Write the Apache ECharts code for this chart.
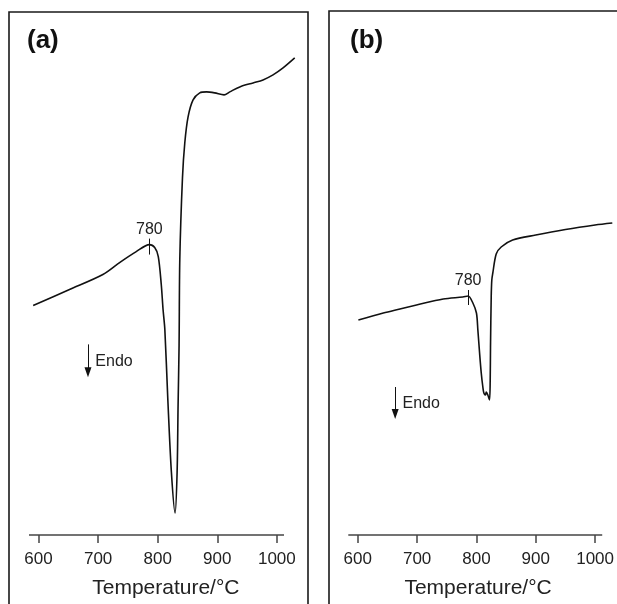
<!DOCTYPE html>
<html>
<head>
<meta charset="utf-8">
<script src="https://cdn.jsdelivr.net/npm/echarts@6/dist/echarts.min.js"></script>
<style>
  html, body { margin: 0; padding: 0; background: #fff; }
  #chart { width: 617px; height: 604px; }
</style>
</head>
<body>
<div id="chart"></div>
<script>
// DTA 曲线数据 (温度 °C, 信号为任意单位)
const tempA = [591, 652, 708, 736, 764, 786, 795, 801, 806, 809, 812, 817, 823, 829.2, 832.6, 834.2, 835.9, 837.1, 841.6, 845.5, 851, 859.4, 870.6, 881.9, 895.8, 911.4, 921, 937.8, 960.1, 976.8, 993.6, 1010.4, 1030];
const dtaA  = [230, 246, 261, 273, 284, 291, 288, 279, 251, 226, 206, 136, 63, 22, 63, 129, 190, 276, 358, 393, 419, 436, 443, 444, 443, 441, 444, 449, 453, 456, 461, 468, 478];

const tempB = [601, 643, 671, 699, 744, 777, 786, 794, 800, 802.4, 805.3, 808.1, 810.8, 812.5, 815.3, 816.5, 819.2, 822, 823.2, 823.7, 824.9, 825.9, 827.6, 833.3, 841.7, 861, 900, 950, 1000, 1029];
const dtaB  = [215, 222, 226, 230, 236, 238, 239, 232, 222, 205, 182, 162, 148, 142, 140, 143, 140, 135, 155, 188, 238, 255, 262, 281, 288, 295, 300, 305.5, 310, 312];

const tickValues = [600, 700, 800, 900, 1000];
const axisSpan = [584, 1012];   // 轴线画到的温度范围
const panelNames = ['(a)', '(b)'];
const peakLabel = '780';
const axisTitle = 'Temperature/°C';

const font = "'Liberation Sans', Arial, sans-serif";

let chart = echarts.init(document.getElementById('chart'));

function makeX(gridIndex, namePad) {
    return {
        type: 'value',
        gridIndex: gridIndex,
        min: 584,
        max: 1035,
        position: 'bottom',
        axisLine: { show: false },
        axisTick: { show: true, length: 8, customValues: tickValues, lineStyle: { color: '#444', width: 1.5 } },
        axisLabel: {
            customValues: tickValues, fontSize: 17, color: '#222', margin: 16, fontFamily: font,
            formatter: function (v) { return String(v); }
        },
        splitLine: { show: false },
        name: axisTitle,
        nameLocation: 'middle',
        nameGap: 43,
        nameTextStyle: { fontSize: 21, color: '#222', fontFamily: font, padding: namePad }
    };
}

function makeY(gridIndex) {
    return { type: 'value', gridIndex: gridIndex, min: 0, max: 500, show: false, splitLine: { show: false } };
}

function makeSeries(idx, temps, vals, peakX, peakY0, peakY1, arrowX, arrowY0, arrowY1, endoX, endoY) {
    return {
        type: 'line',
        xAxisIndex: idx,
        yAxisIndex: idx,
        data: temps.map(function (t, i) { return [t, vals[i]]; }),
        smooth: 0.3,
        showSymbol: false,
        clip: false,
        lineStyle: { color: '#111', width: 1.6 },
        markLine: {
            silent: true,
            animation: false,
            symbol: ['none', 'none'],
            lineStyle: { color: '#111', width: 1, type: 'solid' },
            label: { show: false },
            data: [
                // 横轴线
                [
                    { coord: [axisSpan[0], 0], lineStyle: { color: '#444', width: 1.5 } },
                    { coord: [axisSpan[1], 0] }
                ],
                [
                    { coord: [peakX, peakY0] },
                    { coord: [peakX, peakY1], label: { show: true, position: 'end', formatter: peakLabel, fontSize: 16, color: '#222', fontFamily: font, distance: 1 } }
                ],
                [
                    { coord: [arrowX, arrowY0], symbol: 'none' },
                    { coord: [arrowX, arrowY1], symbol: 'triangle', symbolSize: [7, 10], label: { show: false } }
                ]
            ]
        },
        markPoint: {
            silent: true,
            animation: false,
            symbol: 'circle',
            symbolSize: 0,
            data: [{
                coord: [endoX, endoY],
                label: { show: true, position: 'right', distance: 5, formatter: 'Endo', fontSize: 16, color: '#222', fontFamily: font }
            }]
        }
    };
}

let option = {
    animation: false,
    backgroundColor: '#fff',
    title: [
        { text: panelNames[0], left: 27, top: 28, padding: 0, textStyle: { fontSize: 26, fontWeight: 'bold', color: '#111', fontFamily: font } },
        { text: panelNames[1], left: 350, top: 28, padding: 0, textStyle: { fontSize: 26, fontWeight: 'bold', color: '#111', fontFamily: font } }
    ],
    graphic: [
        { type: 'rect', shape: { x: 9, y: 12, width: 299, height: 620 }, style: { fill: null, stroke: '#1a1a1a', lineWidth: 1.6 }, silent: true },
        { type: 'rect', shape: { x: 329, y: 11, width: 320, height: 620 }, style: { fill: null, stroke: '#1a1a1a', lineWidth: 1.6 }, silent: true }
    ],
    grid: [
        { left: 29, right: 319.3, top: 36, bottom: 68 },
        { left: 348.3, right: 0, top: 35, bottom: 69 }
    ],
    xAxis: [makeX(0, [0, 0, 0, 5]), makeX(1, [0, 8, 0, 0])],
    yAxis: [makeY(0), makeY(1)],
    series: [
        makeSeries(0, tempA, dtaA, 786, 281, 297, 683, 191, 163, 687, 174),
        makeSeries(1, tempB, dtaB, 786, 230, 245, 663, 148, 121, 667, 131)
    ]
};

chart.setOption(option);
</script>
</body>
</html>
